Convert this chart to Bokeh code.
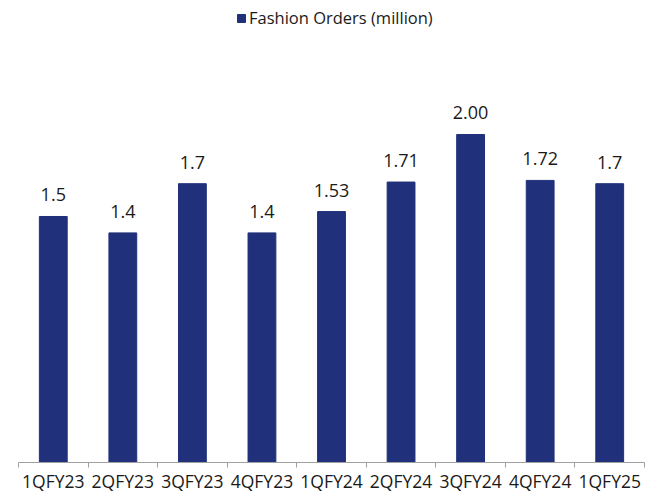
import numpy as np
from bokeh.plotting import figure
from bokeh.models import ColumnDataSource, FixedTicker, Range1d, Legend, LegendItem
from bokeh.core.properties import value
from bokeh.embed import file_html
from bokeh.resources import INLINE

categories = ["1QFY23", "2QFY23", "3QFY23", "4QFY23", "1QFY24", "2QFY24", "3QFY24", "4QFY24", "1QFY25"]
orders = [1.5, 1.4, 1.7, 1.4, 1.53, 1.71, 2.00, 1.72, 1.7]
bar_labels = ["1.5", "1.4", "1.7", "1.4", "1.53", "1.71", "2.00", "1.72", "1.7"]
series_name = "Fashion Orders (million)"

FONT = "Open Sans"
BAR = "#21307A"

x = np.arange(len(categories)) + 0.5
src = ColumnDataSource(dict(x=x, y=orders, lab=bar_labels))

p = figure(frame_width=626, frame_height=462, output_backend="svg", toolbar_location=None,
           x_range=Range1d(0, len(categories)), y_range=Range1d(0, 2.817),
           min_border_left=18, min_border_right=3, min_border_top=0, min_border_bottom=20)
p.outline_line_color = None
p.grid.visible = False
p.yaxis.visible = False
p.background_fill_color = "white"
p.border_fill_color = "white"

r = p.vbar(x="x", top="y", width=0.4, bottom=0, source=src, color=BAR)
p.text(x="x", y="y", text="lab", source=src, text_align="center", text_baseline="bottom",
       y_offset=-15, text_font=value(FONT), text_font_size="18px", text_color="#1a1a1a")

ax = p.xaxis[0]
ax.ticker = FixedTicker(ticks=list(x), minor_ticks=list(range(len(categories) + 1)))
ax.major_label_overrides = {float(xi): c for xi, c in zip(x, categories)}
ax.major_tick_line_color = None
ax.minor_tick_line_color = "#a0a0a0"
ax.minor_tick_out = 5
ax.minor_tick_in = 0
ax.axis_line_color = "#a0a0a0"
ax.axis_line_width = 1
ax.major_label_text_font = FONT
ax.major_label_text_font_size = "17.5px"
ax.major_label_text_line_height = 1.0
ax.major_label_text_color = "#1a1a1a"
ax.major_label_standoff = 0

legend = Legend(items=[LegendItem(label=series_name, renderers=[r])], location=(218, 433),
                orientation="horizontal", border_line_color=None, background_fill_alpha=0,
                label_text_font=FONT, label_text_font_size="16.5px", label_text_color="#1a1a1a",
                glyph_width=10, glyph_height=10, margin=0, padding=0, label_standoff=3)
p.add_layout(legend)

open("out.html", "w").write(file_html(p, INLINE))
